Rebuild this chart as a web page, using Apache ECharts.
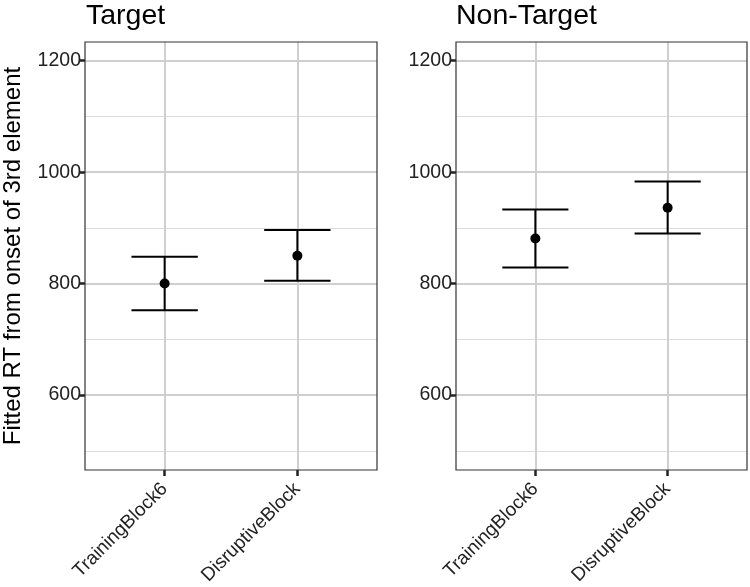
<!DOCTYPE html>
<html>
<head>
<meta charset="utf-8">
<script src="https://cdn.jsdelivr.net/npm/echarts@6/dist/echarts.min.js"></script>
<style>html,body{margin:0;padding:0;background:#fff}#c{width:750px;height:587px}</style>
</head>
<body>
<div id="c"></div>
<script>
const panels = ['Target', 'Non-Target'];
const categories = ['TrainingBlock6', 'DisruptiveBlock'];
const fitTarget = [800, 850];
const lowTarget = [752, 805];
const highTarget = [848, 896];
const fitNonTarget = [881, 936];
const lowNonTarget = [829, 890];
const highNonTarget = [933, 983];
const yTicks = [600, 800, 1000, 1200];
const yMinor = [500, 700, 900, 1100];
const yRange = [465.5, 1233.5];
const capWidth = 0.5;

const chart = echarts.init(document.getElementById('c'), null, {renderer: 'canvas'});
const font = 'Liberation Sans, Arial, Helvetica, sans-serif';
const catPos = categories.map((c, i) => i + 1);

const grids = [
  {left: 85, right: 373, top: 42, bottom: 117},
  {left: 456, right: 3, top: 42, bottom: 117}
];

function xAxis(gi) {
  return {
    type: 'value', gridIndex: gi, min: 0.4, max: 2.6,
    axisLine: {show: false},
    splitLine: {show: false},
    axisTick: {show: true, customValues: catPos, length: 6, lineStyle: {color: '#222', width: 2.5}},
    axisLabel: {
      customValues: catPos, rotate: 45, fontSize: 19, fontFamily: font, color: '#222', margin: 16,
      formatter: v => categories[Math.round(v) - 1] || ''
    }
  };
}
function yAxis(gi) {
  const ax = {
    type: 'value', gridIndex: gi, min: yRange[0], max: yRange[1],
    axisLine: {show: false},
    splitLine: {show: false},
    axisTick: {show: true, customValues: yTicks, length: 6, lineStyle: {color: '#222', width: 2.5}},
    axisLabel: {customValues: yTicks, fontSize: 19.5, fontFamily: font, color: '#222', margin: 4,
      formatter: v => String(v)}
  };
  if (gi === 0) {
    ax.name = 'Fitted RT from onset of 3rd element';
    ax.nameLocation = 'middle';
    ax.nameGap = 60;
    ax.nameTextStyle = {fontSize: 24, fontFamily: font, color: '#000'};
  }
  return ax;
}

function gridSeries(gi) {
  const data = [];
  yTicks.forEach(v => data.push({yAxis: v, lineStyle: {color: '#cfcfcf', width: 2, type: 'solid'}}));
  yMinor.forEach(v => data.push({yAxis: v, lineStyle: {color: '#dcdcdc', width: 1, type: 'solid'}}));
  catPos.forEach(v => data.push({xAxis: v, lineStyle: {color: '#cfcfcf', width: 2, type: 'solid'}}));
  return {
    type: 'scatter', xAxisIndex: gi, yAxisIndex: gi, data: [], silent: true, z: 1,
    markLine: {silent: true, z: 1, symbol: 'none', label: {show: false}, animation: false, data: data}
  };
}

function errSeries(gi, low, high) {
  return {
    type: 'custom', xAxisIndex: gi, yAxisIndex: gi, z: 6,
    data: catPos.map((x, i) => [x, low[i], high[i]]),
    renderItem: function (params, api) {
      const x = api.value(0);
      const lo = api.coord([x, api.value(1)]);
      const hi = api.coord([x, api.value(2)]);
      const l = api.coord([x - capWidth / 2, api.value(1)]);
      const r = api.coord([x + capWidth / 2, api.value(1)]);
      const style = {stroke: '#000', lineWidth: 2, fill: null};
      return {
        type: 'group',
        children: [
          {type: 'line', shape: {x1: lo[0], y1: lo[1], x2: hi[0], y2: hi[1]}, style: style},
          {type: 'line', shape: {x1: l[0], y1: lo[1], x2: r[0], y2: lo[1]}, style: style},
          {type: 'line', shape: {x1: l[0], y1: hi[1], x2: r[0], y2: hi[1]}, style: style}
        ]
      };
    }
  };
}
function pointSeries(gi, fit) {
  return {
    type: 'scatter', xAxisIndex: gi, yAxisIndex: gi, z: 7,
    symbol: 'circle', symbolSize: 10,
    itemStyle: {color: '#000', opacity: 1},
    data: catPos.map((x, i) => [x, fit[i]])
  };
}

const titleStyle = {fontSize: 28.5, fontWeight: 'normal', fontFamily: font, color: '#000'};
const option = {
  animation: false,
  backgroundColor: '#fff',
  title: [
    {text: panels[0], left: 86, top: 2, padding: 0, textStyle: titleStyle},
    {text: panels[1], left: 456, top: 2, padding: 0, textStyle: titleStyle}
  ],
  grid: grids.map(g => Object.assign({show: true, containLabel: false, outerBoundsMode: 'none', borderColor: '#333', borderWidth: 1.2, backgroundColor: 'transparent', z: 8}, g)),
  xAxis: [xAxis(0), xAxis(1)],
  yAxis: [yAxis(0), yAxis(1)],
  series: [
    gridSeries(0), gridSeries(1),
    errSeries(0, lowTarget, highTarget), errSeries(1, lowNonTarget, highNonTarget),
    pointSeries(0, fitTarget), pointSeries(1, fitNonTarget)
  ]
};
chart.setOption(option);
</script>
</body>
</html>
